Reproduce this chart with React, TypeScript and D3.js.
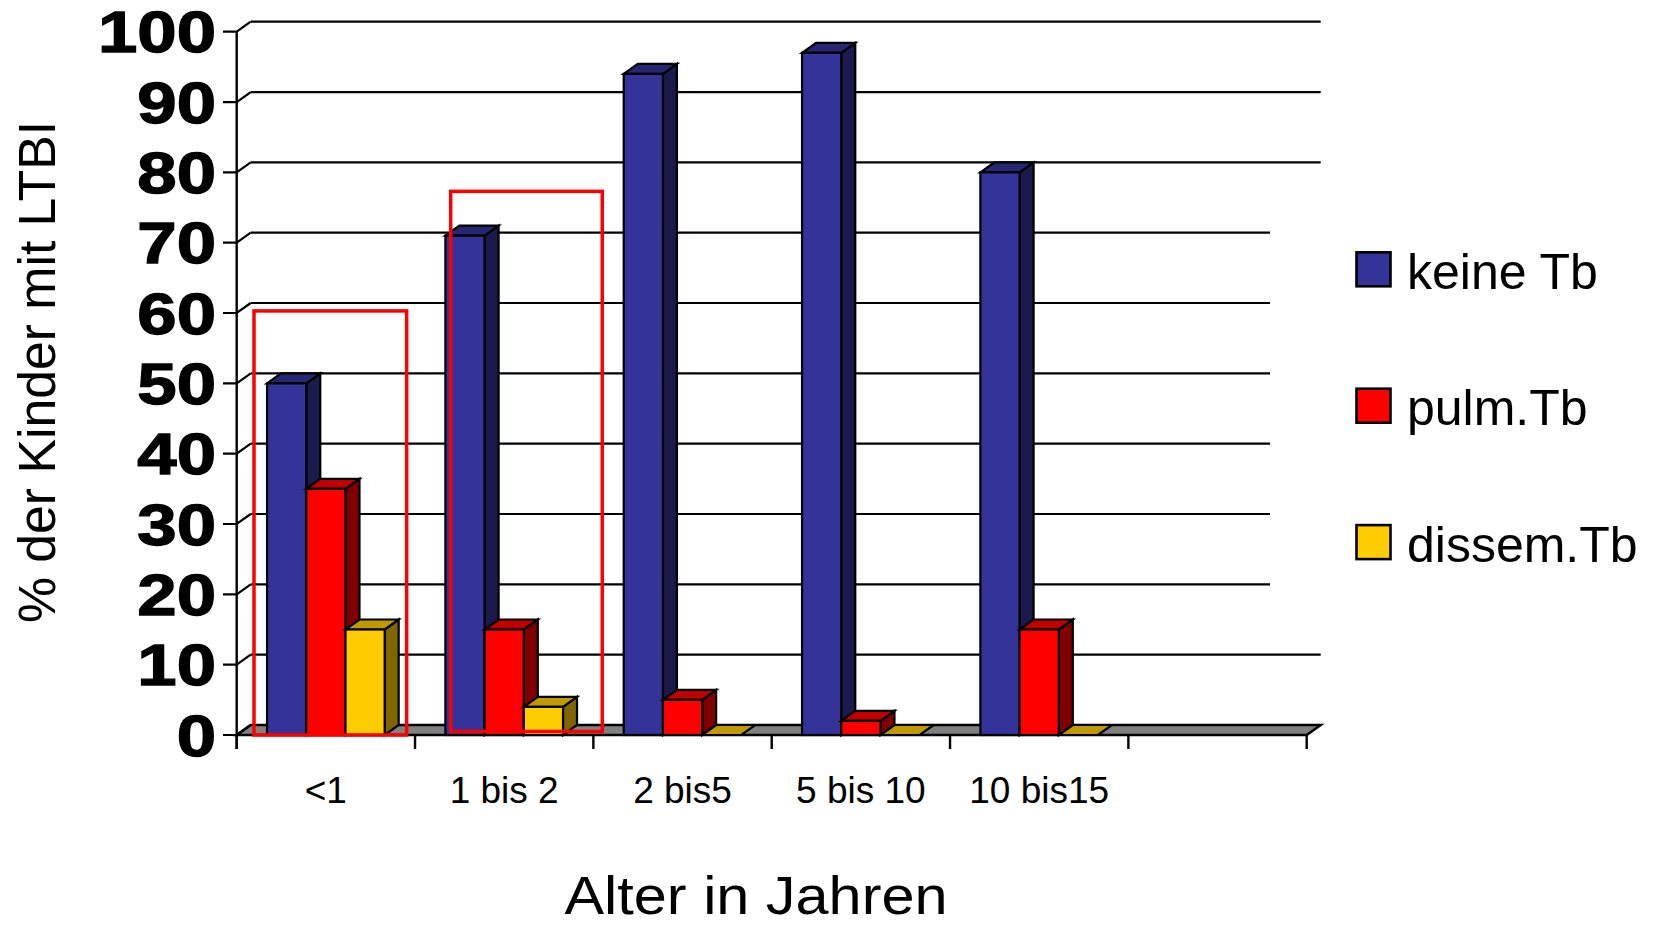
import React from "react";
import * as d3 from "d3";

// Age groups (the last slot is an empty category on the axis)
const categories = ["<1", "1 bis 2", "2 bis5", "5 bis 10", "10 bis15", ""];
const seriesNames = ["keine Tb", "pulm.Tb", "dissem.Tb"];
// % of children with LTBI per age group
const keineTb = [50, 71, 94, 97, 80, null];
const pulmTb = [35, 15, 5, 2, 15, null];
const dissemTb = [15, 4, 0, 0, 0, null];
const yTicks = [0, 10, 20, 30, 40, 50, 60, 70, 80, 90, 100];
// Highlight frames, in category units horizontally and value units vertically
const highlightFrom = [0.097, 1.2];
const highlightTo = [0.953, 2.05];
const highlightTop = [60.3, 77.3];
const highlightBottom = [0, 0.5];

const seriesValues = [keineTb, pulmTb, dissemTb];
const faceColors = [
  { front: "#333399", top: "#262673", side: "#1A1A4D" },
  { front: "#FF0000", top: "#C00000", side: "#800000" },
  { front: "#FFCC00", top: "#BF9900", side: "#806600" },
];

const W = 1655;
const H = 926;
const X0 = 236.7;
const X1 = 1306.7;
const Y0 = 735;
const Y100 = 31.7;
const DX = 14;
const DY = -10;
const FONT = "'Liberation Sans', Arial, sans-serif";

const y = d3.scaleLinear().domain([0, 100]).range([Y0, Y100]);
const xCat = d3
  .scaleBand<number>()
  .domain(d3.range(categories.length))
  .range([X0, X1])
  .paddingInner(0)
  .paddingOuter(0);
const xPos = d3.scaleLinear().domain([0, categories.length]).range([X0, X1]);
const xSeries = d3
  .scaleBand<string>()
  .domain(seriesNames)
  .range([0, xCat.bandwidth()])
  .paddingInner(0)
  .paddingOuter(0.774);

const pts = (p: [number, number][]) => p.map((q) => q.join(",")).join(" ");

function Bar({ x, w, v, c }: { x: number; w: number; v: number; c: (typeof faceColors)[number] }) {
  const yv = y(v);
  const sw = 2.2;
  return (
    <g stroke="#000" strokeWidth={sw} strokeLinejoin="miter">
      {v > 0 && (
        <polygon
          points={pts([
            [x + w, yv],
            [x + w + DX, yv + DY],
            [x + w + DX, Y0 + DY],
            [x + w, Y0],
          ])}
          fill={c.side}
        />
      )}
      <polygon
        points={pts([
          [x, yv],
          [x + DX, yv + DY],
          [x + w + DX, yv + DY],
          [x + w, yv],
        ])}
        fill={c.top}
      />
      {v > 0 && <rect x={x} y={yv} width={w} height={Y0 - yv} fill={c.front} />}
    </g>
  );
}

export default function App() {
  const bw = xSeries.bandwidth();
  const yLabelSize = 58;
  return (
    <svg
      width={W}
      height={H}
      viewBox={`0 0 ${W} ${H}`}
      style={{ position: "absolute", left: 0, top: 0, background: "#fff" }}
    >
      <rect x={0} y={0} width={W} height={H} fill="#fff" />

      {/* floor */}
      <polygon
        points={pts([
          [X0, Y0],
          [X1, Y0],
          [X1 + DX, Y0 + DY],
          [X0 + DX, Y0 + DY],
        ])}
        fill="#808080"
        stroke="#000"
        strokeWidth={2.5}
      />

      {/* back-wall gridlines, side-wall diagonals and value ticks */}
      {yTicks.map((t) => (
        <g key={t} stroke="#000" strokeWidth={2.2} fill="none">
          {t > 0 && <line x1={X0 + DX} x2={X1 + DX} y1={y(t) + DY} y2={y(t) + DY} />}
          <polyline
            points={pts([
              [X0 - 13.7, y(t)],
              [X0, y(t)],
              [X0 + DX, y(t) + DY],
            ])}
          />
        </g>
      ))}

      {/* front value axis */}
      <line x1={X0} x2={X0} y1={y(100)} y2={Y0 + 14} stroke="#000" strokeWidth={2.4} />

      {/* category ticks */}
      {d3.range(categories.length + 1).map((i) => (
        <line
          key={i}
          x1={xPos(i)}
          x2={xPos(i)}
          y1={Y0}
          y2={Y0 + 14}
          stroke="#000"
          strokeWidth={2.4}
        />
      ))}

      {/* bars */}
      {categories.map((cat, ci) =>
        seriesNames.map((s, si) => {
          const v = seriesValues[si][ci];
          if (v === null || v === undefined) return null;
          const x = (xCat(ci) as number) + (xSeries(s) as number);
          return <Bar key={`${ci}-${si}`} x={x} w={bw} v={v} c={faceColors[si]} />;
        })
      )}

      {/* highlight frames */}
      {highlightFrom.map((f, i) => (
        <rect
          key={i}
          x={xPos(f)}
          y={y(highlightTop[i])}
          width={xPos(highlightTo[i]) - xPos(f)}
          height={y(highlightBottom[i]) - y(highlightTop[i])}
          fill="none"
          stroke="#FF0000"
          strokeWidth={3.5}
        />
      ))}

      {/* value labels */}
      {yTicks.map((t) => (
        <text
          key={t}
          transform={`translate(216, ${y(t) + yLabelSize * 0.358}) scale(1.22, 1)`}
          textAnchor="end"
          fontFamily={FONT}
          fontWeight="bold"
          fontSize={yLabelSize}
          fill="#000"
          stroke="#000"
          strokeWidth={1.3}
        >
          {t}
        </text>
      ))}

      {/* category labels */}
      {categories.map((c, i) => (
        <text
          key={i}
          x={(xCat(i) as number) + xCat.bandwidth() / 2}
          y={802.7}
          textAnchor="middle"
          fontFamily={FONT}
          fontSize={37}
          fill="#000"
        >
          {c}
        </text>
      ))}

      {/* axis titles */}
      <text
        transform="translate(55, 372) rotate(-90)"
        textAnchor="middle"
        fontFamily={FONT}
        fontSize={51}
        textLength={502}
        lengthAdjust="spacingAndGlyphs"
        fill="#000"
      >
        % der Kinder mit LTBI
      </text>
      <text
        x={756}
        y={914}
        textAnchor="middle"
        fontFamily={FONT}
        fontSize={53}
        textLength={383}
        lengthAdjust="spacingAndGlyphs"
        fill="#000"
      >
        Alter in Jahren
      </text>

      {/* legend */}
      <rect x={1270} y={190} width={385} height={430} fill="#fff" />
      {seriesNames.map((s, i) => {
        const top = 252.3 + i * 136.4;
        return (
          <g key={s}>
            <rect
              x={1356.5}
              y={top}
              width={34}
              height={34}
              fill={faceColors[i].front}
              stroke="#000"
              strokeWidth={2.6}
            />
            <text x={1407} y={top + 36.5} fontFamily={FONT} fontSize={50} fill="#000">
              {s}
            </text>
          </g>
        );
      })}
    </svg>
  );
}
